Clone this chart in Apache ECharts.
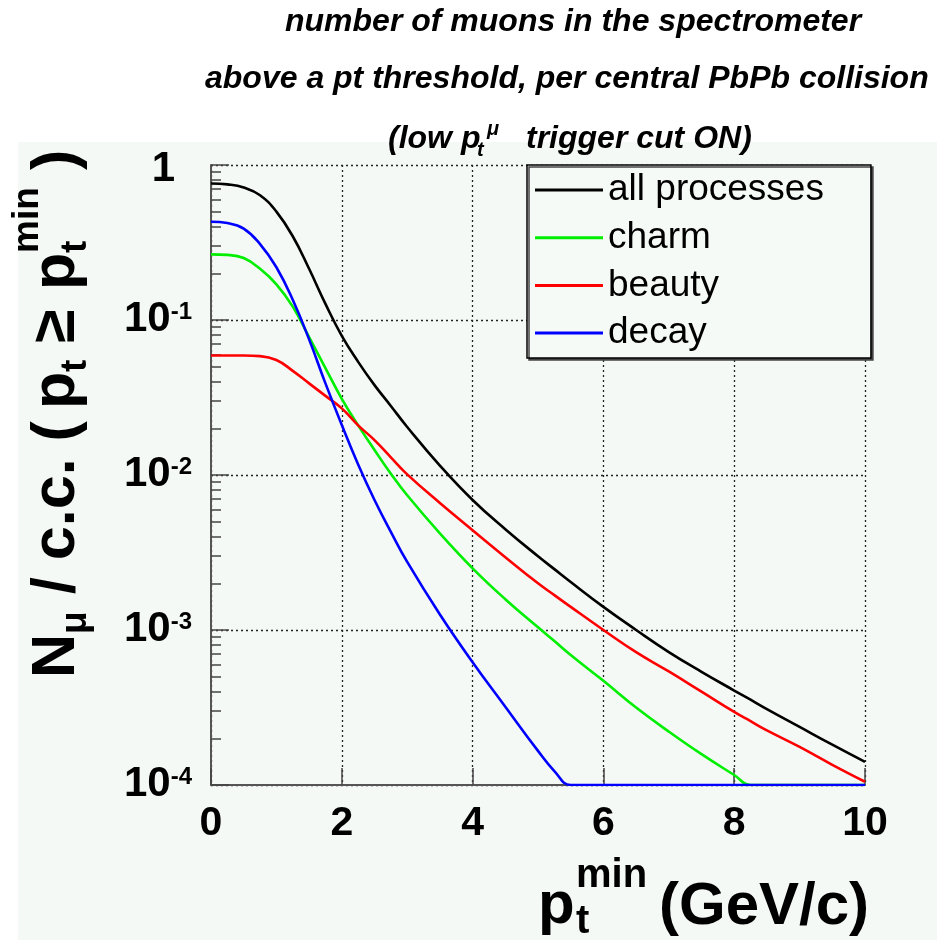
<!DOCTYPE html>
<html><head><meta charset="utf-8">
<script src="https://cdn.jsdelivr.net/npm/echarts@6/dist/echarts.min.js"></script>
<style>html,body{margin:0;padding:0;background:#fff}#c{width:937px;height:940px}</style>
</head><body><div id="c"></div>
<script>
// ---- data ----
const ptMin = [0, 0.25, 0.5, 0.75, 1, 1.25, 1.5, 1.75, 2, 2.25, 2.5, 2.75, 3, 3.5, 4, 4.5, 5, 5.25, 5.5, 6, 6.5, 7, 7.5, 8, 8.25, 8.5, 9, 9.5, 10];
const allProcesses = [0.76, 0.75, 0.716, 0.638, 0.50, 0.347, 0.214, 0.127, 0.079, 0.0537, 0.038, 0.0279, 0.0204, 0.0115, 0.0069, 0.00447, 0.00299, 0.00247, 0.00204, 0.00141, 0.00100, 0.00072, 0.000537, 0.000407, 0.000355, 0.000309, 0.000237, 0.000182, 0.000141];
const charm = [0.265, 0.263, 0.251, 0.214, 0.17, 0.122, 0.0776, 0.049, 0.031, 0.0209, 0.0145, 0.0102, 0.0074, 0.0042, 0.0025, 0.00158, 0.00104, 0.00085, 0.00069, 0.00047, 0.000316, 0.000221, 0.000158, 0.000116, 0.0001, 0.0001, 0.0001, 0.0001, 0.0001];
const beauty = [0.059, 0.059, 0.059, 0.0585, 0.0552, 0.047, 0.039, 0.0324, 0.0269, 0.0209, 0.0168, 0.0130, 0.0101, 0.0066, 0.0044, 0.00295, 0.0020, 0.00168, 0.00141, 0.00100, 0.00072, 0.00054, 0.00040, 0.000296, 0.000258, 0.000225, 0.000176, 0.000135, 0.000105];
const decay = [0.43, 0.422, 0.389, 0.309, 0.219, 0.135, 0.075, 0.039, 0.021, 0.0117, 0.0069, 0.0043, 0.00275, 0.00126, 0.00062, 0.00032, 0.000166, 0.000123, 0.0001, 0.0001, 0.0001, 0.0001, 0.0001, 0.0001, 0.0001, 0.0001, 0.0001, 0.0001, 0.0001];
const seriesNames = ['all processes', 'charm', 'beauty', 'decay'];
const seriesValues = [allProcesses, charm, beauty, decay];
const seriesColors = ['#000000', '#00ee00', '#ff0000', '#0000ff'];
const xTickValues = [0, 2, 4, 6, 8, 10];
const yDecadeExponents = [-4, -3, -2, -1, 0];
const titleLines = ['number of muons in the spectrometer', 'above a pt threshold, per central PbPb collision'];

const F = "'Liberation Sans', Arial, Helvetica, sans-serif";
const minorLog = [];
yDecadeExponents.slice(0, -1).forEach(d => { for (let k = 2; k <= 9; k++) minorLog.push(Math.log10(k) + d); });

function txt(text, x, baseline, size, extra) {
  extra = extra || {};
  return {
    type: 'text', x: x, y: baseline - 0.3465 * size, silent: true,
    style: Object.assign({
      text: text, fill: '#000', fontSize: size, fontWeight: 'bold', fontFamily: F,
      align: 'left', verticalAlign: 'middle', textAlign: 'left', textVerticalAlign: 'middle'
    }, extra)
  };
}
const it = { fontStyle: 'italic' };

const chart = echarts.init(document.getElementById('c'), null, { renderer: 'canvas' });
chart.setOption({
  animation: false,
  backgroundColor: '#ffffff',
  grid: { left: 211, top: 165, width: 654, height: 620, containLabel: false },
  legend: {
    orient: 'vertical', left: 527, top: 165,
    padding: [6, 47, 6, 8], itemWidth: 68, itemHeight: 3, itemGap: 9.7, icon: 'rect',
    backgroundColor: '#f6faf7', borderColor: '#000', borderWidth: 1.5,
    shadowColor: '#444', shadowOffsetX: 2, shadowOffsetY: 2, shadowBlur: 0,
    textStyle: { fontSize: 37, fontFamily: F, color: '#000', lineHeight: 38 },
    data: seriesNames
  },
  xAxis: {
    type: 'value', min: 0, max: 10, interval: 2,
    axisLine: { show: true, onZero: false, lineStyle: { color: '#555', width: 2 } },
    axisTick: { show: true, inside: true, length: 17, lineStyle: { color: '#444', width: 1.5 }, customValues: xTickValues },
    axisLabel: { fontSize: 41, fontWeight: 'bold', fontFamily: F, color: '#000', margin: 18 },
    splitLine: { show: true, lineStyle: { color: '#222', width: 1.3, type: [2, 3] } }
  },
  yAxis: [{
    type: 'log', logBase: 10, min: 1e-4, max: 1,
    axisLine: { show: true, onZero: false, lineStyle: { color: '#555', width: 2 } },
    axisTick: { show: true, inside: true, length: 18, lineStyle: { color: '#444', width: 1.5 } },
    axisLabel: {
      margin: 19, color: '#000',
      formatter: function (v) {
        const e = Math.round(Math.log10(v));
        if (e === 0) return '{b1|1}{s|}';
        return '{b|10}{e|' + e + '}';
      },
      rich: {
        b: { fontSize: 42, fontWeight: 'bold', fontFamily: F, lineHeight: 40, verticalAlign: 'bottom' },
        b1: { fontSize: 42, fontWeight: 'bold', fontFamily: F, lineHeight: 40, verticalAlign: 'bottom' },
        e: { fontSize: 24, fontWeight: 'bold', fontFamily: F, lineHeight: 24, verticalAlign: 'top', padding: [0, 0, 36, 0] },
        s: { width: 17, lineHeight: 50, verticalAlign: 'top' }
      }
    },
    splitLine: { show: true, lineStyle: { color: '#222', width: 1.3, type: [2, 3] } }
  }, {
    type: 'value', min: -4, max: 0, position: 'left', show: true,
    axisLine: { show: false, onZero: false }, axisLabel: { show: false }, splitLine: { show: false },
    axisTick: { show: true, inside: true, length: 10, lineStyle: { color: '#444', width: 1.5 }, customValues: minorLog }
  }],
  series: seriesNames.map((name, i) => ({
    name: name, type: 'line', yAxisIndex: 0, symbol: 'none', smooth: 0.45, clip: true,
    lineStyle: { color: seriesColors[i], width: 2.6 }, itemStyle: { color: seriesColors[i] },
    data: ptMin.map((x, j) => [x, seriesValues[i][j]])
  })),
  graphic: [
    { type: 'rect', z: -10, silent: true, shape: { x: 18, y: 142, width: 919, height: 798 }, style: { fill: '#f4f9f5' } },
    // title
    txt(titleLines[0], 285, 33, 32, it),
    txt(titleLines[1], 205, 90, 32, it),
    txt('(low p', 388, 150, 32, it),
    txt('t', 477, 157, 20, it),
    txt('\u03bc', 487, 136, 20, it),
    txt('trigger cut ON)', 526, 150, 32, it),
    // x-axis title
    txt('p', 538, 927, 60),
    txt('min', 576, 890, 40),
    txt('t', 576, 936, 40),
    txt('(GeV/c)', 659, 928, 60),
    // y-axis title (rotated)
    {
      type: 'group', x: 78, y: 678, rotation: Math.PI / 2, silent: true,
      children: [
        txt('N', 0, 0, 61),
        txt('\u03bc', 44, 11, 37),
        txt(' / c.c. (', 67, 0, 61),
        txt('p', 269, 0, 61),
        txt('t', 306, 11, 37),
        txt(' \u2265 ', 318, 0, 61),
        txt('p', 388, 0, 61),
        txt('t', 425, 11, 37),
        txt('min', 425, -37, 37),
        txt(' )', 491, 0, 61)
      ]
    }
  ]
});
</script></body></html>
